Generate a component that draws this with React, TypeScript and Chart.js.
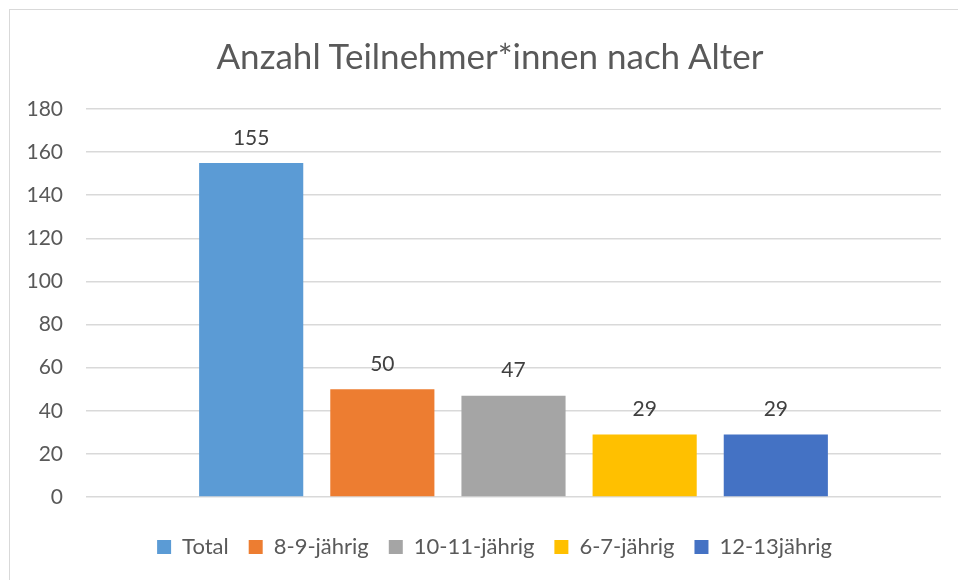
import React, { useEffect, useRef } from "react";
import { Chart, registerables } from "chart.js";

Chart.register(...registerables);

const categories = [""];
const seriesNames = ["Total", "8-9-jährig", "10-11-jährig", "6-7-jährig", "12-13jährig"];
const seriesValues = [155, 50, 47, 29, 29];
const seriesColors = ["#5B9BD5", "#ED7D31", "#A5A5A5", "#FFC000", "#4472C4"];
const yTicks = [0, 20, 40, 60, 80, 100, 120, 140, 160, 180];
const titleText = "Anzahl Teilnehmer*innen nach Alter";

const FONT = "Lato, 'Open Sans', sans-serif";
const TEXT = "#595959";

const dataLabelPlugin = {
  id: "dataLabels",
  afterDatasetsDraw(chart: any) {
    const ctx = chart.ctx;
    ctx.save();
    ctx.font = `21px ${FONT}`;
    ctx.fillStyle = "#404040";
    ctx.textAlign = "center";
    ctx.textBaseline = "middle";
    chart.data.datasets.forEach((ds: any, i: number) => {
      const meta = chart.getDatasetMeta(i);
      meta.data.forEach((el: any, j: number) => {
        ctx.fillText(String(ds.data[j]), el.x, el.y - 25);
      });
    });
    ctx.restore();
  },
};

// centre the legend on the chart frame rather than on the padded layout box
const legendShiftPlugin = {
  id: "legendShift",
  afterLayout(chart: any) {
    const lg = chart.legend;
    if (lg) {
      lg.left += 14;
      lg.right += 14;
    }
  },
};

export default function App() {
  const ref = useRef<HTMLCanvasElement>(null);
  useEffect(() => {
    document.body.style.margin = "0";
    const chart = new Chart(ref.current!, {
      type: "bar",
      data: {
        labels: categories,
        datasets: seriesNames.map((name, i) => ({
          label: name,
          data: [seriesValues[i]],
          backgroundColor: seriesColors[i],
          borderWidth: 0,
          barPercentage: 0.794,
          categoryPercentage: 0.767,
        })),
      },
      options: {
        animation: false,
        responsive: false,
        maintainAspectRatio: false,
        layout: { padding: { left: 20, right: 17, top: 109, bottom: 12 } },
        plugins: {
          tooltip: { enabled: false },
          title: { display: false },
          legend: {
            position: "bottom",
            labels: {
              color: TEXT,
              font: { family: FONT, size: 22 },
              boxWidth: 14,
              boxHeight: 14,
              padding: 20,
            },
          },
        },
        scales: {
          x: {
            grid: { display: false },
            border: { display: false },
            ticks: { display: false },
            afterFit: (scale: any) => {
              scale.height = scale.height + 11;
            },
          },
          y: {
            min: 0,
            max: 180,
            afterFit: (scale: any) => {
              scale.width = 66;
            },
            afterBuildTicks: (scale: any) => {
              scale.ticks = yTicks.map((v) => ({ value: v }));
            },
            grid: { color: "#d9d9d9", lineWidth: 1.5, drawTicks: false },
            border: { display: false },
            ticks: {
              color: TEXT,
              font: { family: FONT, size: 21 },
              padding: 23,
            },
          },
        },
      },
      plugins: [dataLabelPlugin, legendShiftPlugin],
    });
    return () => chart.destroy();
  }, []);
  return (
    <div style={{ position: "relative", width: 958, height: 580, overflow: "hidden", background: "#fff" }}>
      <div
        style={{
          position: "absolute",
          left: 9,
          top: 9,
          width: 970,
          height: 600,
          borderTop: "1.5px solid #d9d9d9",
          borderLeft: "1.5px solid #d9d9d9",
        }}
      />
      <canvas ref={ref} width={958} height={580} style={{ position: "absolute", left: 0, top: 0 }} />
      <div
        style={{
          position: "absolute",
          left: 9,
          top: 34,
          width: 962,
          textAlign: "center",
          fontFamily: FONT,
          fontSize: 35,
          lineHeight: "42px",
          color: TEXT,
          whiteSpace: "nowrap",
        }}
      >
        {titleText}
      </div>
    </div>
  );
}
